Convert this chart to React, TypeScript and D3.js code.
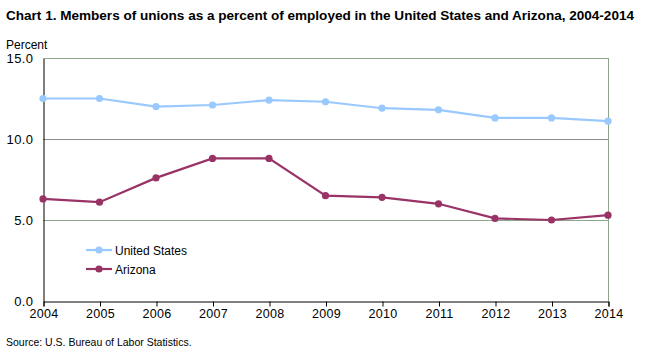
import { useEffect, useRef } from "react";
import * as d3 from "d3";

const years = [2004, 2005, 2006, 2007, 2008, 2009, 2010, 2011, 2012, 2013, 2014];
const unitedStates = [12.5, 12.5, 12.0, 12.1, 12.4, 12.3, 11.9, 11.8, 11.3, 11.3, 11.1];
const arizona = [6.3, 6.1, 7.6, 8.8, 8.8, 6.5, 6.4, 6.0, 5.1, 5.0, 5.3];
const yTicks = [0, 5, 10, 15];

const seriesList = [
  { name: "United States", values: unitedStates, color: "#99c9ff" },
  { name: "Arizona", values: arizona, color: "#993366" },
];

export default function App() {
  const svgRef = useRef<SVGSVGElement>(null);

  useEffect(() => {
    if (!svgRef.current) return;
    const svg = d3.select(svgRef.current);
    svg.selectAll("*").remove();

    const font = "'Liberation Sans', Arial, sans-serif";
    const left = 43;
    const right = 608;
    const top = 58;
    const bottom = 301;

    const x = d3.scaleLinear().domain([2004, 2014]).range([left, right]);
    const y = d3.scaleLinear().domain([0, 15]).range([bottom, top]);

    // title
    svg
      .append("text")
      .attr("x", 6)
      .attr("y", 20)
      .attr("font-family", font)
      .attr("font-weight", "bold")
      .attr("font-size", 12.5)
      .attr("textLength", 628)
      .attr("lengthAdjust", "spacingAndGlyphs")
      .text("Chart 1. Members of unions as a percent of employed in the United  States and Arizona, 2004-2014");

    svg
      .append("text")
      .attr("x", 6)
      .attr("y", 49)
      .attr("font-family", font)
      .attr("font-size", 12)
      .text("Percent");

    // grid lines
    const g = svg.append("g");
    g.selectAll("line.grid")
      .data(yTicks.filter((t) => t > 0))
      .enter()
      .append("line")
      .attr("x1", left)
      .attr("x2", right)
      .attr("y1", (d) => Math.round(y(d)) + 0.5)
      .attr("y2", (d) => Math.round(y(d)) + 0.5)
      .attr("stroke", (d) => (d === 10 ? "#8c8c8c" : "#8fa58a"))
      .attr("stroke-width", 1);

    // right border
    g.append("line")
      .attr("x1", right + 0.5)
      .attr("x2", right + 0.5)
      .attr("y1", top)
      .attr("y2", bottom)
      .attr("stroke", "#8fa58a");

    // y axis
    const yAxis = g
      .append("g")
      .attr("transform", `translate(${left + 0.5},0.5)`)
      .call(
        d3
          .axisLeft(y)
          .tickValues(yTicks)
          .tickSize(0)
          .tickPadding(10)
          .tickFormat((d) => d3.format(".1f")(d as number)),
      );
    yAxis.select(".domain").attr("stroke", "#000");
    yAxis
      .selectAll("text")
      .attr("font-family", font)
      .attr("font-size", 13)
      .attr("letter-spacing", 0.4)
      .attr("fill", "#000");

    // x axis
    const xAxis = g
      .append("g")
      .attr("transform", `translate(0.5,${bottom + 0.5})`)
      .call(
        d3
          .axisBottom(x)
          .tickValues(years)
          .tickSizeOuter(0)
          .tickSize(5)
          .tickPadding(3)
          .tickFormat((d) => String(d)),
      );
    xAxis.select(".domain").attr("stroke", "#000");
    xAxis.selectAll(".tick line").attr("stroke", "#000");
    xAxis
      .selectAll("text")
      .attr("font-family", font)
      .attr("font-size", 12.5)
      .attr("letter-spacing", 0.3)
      .attr("fill", "#000");

    // lines
    const line = d3
      .line<number>()
      .x((_, i) => x(years[i]))
      .y((d) => y(d));

    seriesList.forEach((s) => {
      g.append("path")
        .datum(s.values)
        .attr("d", line)
        .attr("fill", "none")
        .attr("stroke", s.color)
        .attr("stroke-width", 2.2);
      g.selectAll(null)
        .data(s.values)
        .enter()
        .append("circle")
        .attr("cx", (_, i) => x(years[i]))
        .attr("cy", (d) => y(d))
        .attr("r", 3.6)
        .attr("fill", s.color);
    });

    // legend
    const legend = g.append("g");
    seriesList.forEach((s, i) => {
      const ly = 250 + i * 19;
      legend
        .append("line")
        .attr("x1", 86)
        .attr("x2", 112)
        .attr("y1", ly)
        .attr("y2", ly)
        .attr("stroke", s.color)
        .attr("stroke-width", 2.2);
      legend.append("circle").attr("cx", 99).attr("cy", ly).attr("r", 3.6).attr("fill", s.color);
      legend
        .append("text")
        .attr("x", 115)
        .attr("y", ly + 4.5)
        .attr("font-family", font)
        .attr("font-size", 12)
        .text(s.name);
    });

    svg
      .append("text")
      .attr("x", 6)
      .attr("y", 346)
      .attr("font-family", font)
      .attr("font-size", 10.5)
      .text("Source: U.S. Bureau of Labor Statistics.");
  }, []);

  return (
    <svg
      ref={svgRef}
      width={650}
      height={353}
      style={{ position: "absolute", left: 0, top: 0, background: "#fff" }}
    />
  );
}
